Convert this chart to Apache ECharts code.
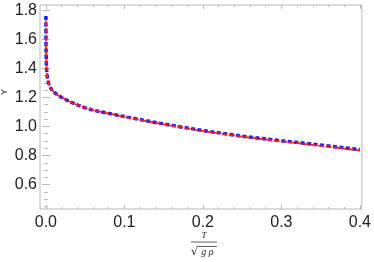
<!DOCTYPE html>
<html>
<head>
<meta charset="utf-8">
<script src="https://cdn.jsdelivr.net/npm/echarts@6/dist/echarts.min.js"></script>
<style>html,body{margin:0;padding:0;background:#fff}#c{width:374px;height:262px}</style>
</head>
<body>
<div id="c"></div>
<script>
// Data
var xValues = [0, 0.0001, 0.0003, 0.0006, 0.001, 0.002, 0.003, 0.005, 0.0075, 0.01, 0.015, 0.02, 0.03, 0.04, 0.05, 0.06, 0.08, 0.1, 0.125, 0.15, 0.175, 0.2, 0.25, 0.3, 0.35, 0.4];
var blueY = [1.76, 1.60, 1.50, 1.43, 1.38, 1.33, 1.305, 1.275, 1.252, 1.237, 1.217, 1.20, 1.172, 1.148, 1.128, 1.112, 1.09, 1.068, 1.042, 1.017, 0.994, 0.972, 0.933, 0.902, 0.872, 0.840];
var redY  = [1.73, 1.59, 1.50, 1.43, 1.38, 1.33, 1.305, 1.275, 1.252, 1.237, 1.217, 1.20, 1.172, 1.148, 1.128, 1.112, 1.089, 1.066, 1.040, 1.015, 0.992, 0.969, 0.930, 0.898, 0.867, 0.835];
var xMajorTicks = [0, 0.1, 0.2, 0.3, 0.4];
var xMinorTicks = [0.02, 0.04, 0.06, 0.08, 0.12, 0.14, 0.16, 0.18, 0.22, 0.24, 0.26, 0.28, 0.32, 0.34, 0.36, 0.38];
var yMajorTicks = [0.6, 0.8, 1.0, 1.2, 1.4, 1.6, 1.8];
var yMinorTicks = [0.45, 0.5, 0.55, 0.65, 0.7, 0.75, 0.85, 0.9, 0.95, 1.05, 1.1, 1.15, 1.25, 1.3, 1.35, 1.45, 1.5, 1.55, 1.65, 1.7, 1.75];

var blueData = xValues.map(function (x, i) { return [x, blueY[i]]; });
var redData = xValues.map(function (x, i) { return [x, redY[i]]; });

var XMIN = -0.0075, XMAX = 0.4025, YMIN = 0.432, YMAX = 1.836;
var frameColor = '#b8b8b8';
var labelFont = { fontFamily: 'Liberation Sans', fontSize: 16, color: '#222' };

function xAx(pos, ticks, len, showLabel) {
  return {
    type: 'value', position: pos, min: XMIN, max: XMAX,
    axisLine: { show: false },
    splitLine: { show: false },
    axisTick: { show: true, inside: true, length: len, customValues: ticks, lineStyle: { color: frameColor, width: 1 } },
    axisLabel: showLabel ? Object.assign({ show: true, margin: 6, customValues: ticks, formatter: function (v) { return v.toFixed(1); } }, labelFont) : { show: false }
  };
}
function yAx(pos, ticks, len, showLabel) {
  return {
    type: 'value', position: pos, min: YMIN, max: YMAX,
    axisLine: { show: false },
    splitLine: { show: false },
    axisTick: { show: true, inside: true, length: len, customValues: ticks, lineStyle: { color: frameColor, width: 1 } },
    axisLabel: showLabel ? Object.assign({ show: true, margin: 3, customValues: ticks, formatter: function (v) { return v.toFixed(1); } }, labelFont) : { show: false }
  };
}

var chart = echarts.init(document.getElementById('c'), null, { renderer: 'canvas' });
chart.setOption({
  animation: false,
  backgroundColor: '#fff',
  grid: { left: 40, right: 7, top: 5, bottom: 53, show: true, borderColor: frameColor, borderWidth: 1, backgroundColor: 'transparent' },
  xAxis: [
    xAx('bottom', xMajorTicks, 4, true),
    xAx('bottom', xMinorTicks, 2, false),
    xAx('top', xMajorTicks, 4, false),
    xAx('top', xMinorTicks, 2, false)
  ],
  yAxis: [
    yAx('left', yMajorTicks, 4, true),
    yAx('left', yMinorTicks, 2, false),
    yAx('right', yMajorTicks, 4, false),
    yAx('right', yMinorTicks, 2, false)
  ],
  series: [
    { type: 'line', data: blueData, showSymbol: false, z: 2,
      lineStyle: { color: '#1a1aff', width: 3.5, type: [4, 2.5] } },
    { type: 'line', data: redData, showSymbol: false, z: 3,
      lineStyle: { color: '#ff1a1a', width: 1.8, type: [6, 1.5] } }
  ],
  graphic: [
    { type: 'text', x: 5, y: 92, rotation: Math.PI / 2,
      style: { text: 'Y', fontFamily: 'Liberation Sans', fontSize: 9, fill: '#222', align: 'center', verticalAlign: 'middle' } },
    { type: 'text', x: 204, y: 236,
      style: { text: 'T', fontFamily: 'Liberation Serif', fontStyle: 'italic', fontSize: 9, fill: '#222', align: 'center', verticalAlign: 'middle' } },
    { type: 'line', shape: { x1: 191, y1: 242, x2: 217, y2: 242 }, style: { stroke: '#333', lineWidth: 0.8 } },
    { type: 'text', x: 191, y: 252,
      style: { text: '\u221A', fontFamily: 'DejaVu Sans', fontSize: 11, fill: '#222', align: 'left', verticalAlign: 'middle' } },
    { type: 'line', shape: { x1: 198, y1: 246.5, x2: 217, y2: 246.5 }, style: { stroke: '#333', lineWidth: 0.8 } },
    { type: 'text', x: 207.5, y: 252.5,
      style: { text: 'g \u03C1', fontFamily: 'Liberation Serif', fontStyle: 'italic', fontSize: 10, fill: '#222', align: 'center', verticalAlign: 'middle' } }
  ]
});
</script>
</body>
</html>
